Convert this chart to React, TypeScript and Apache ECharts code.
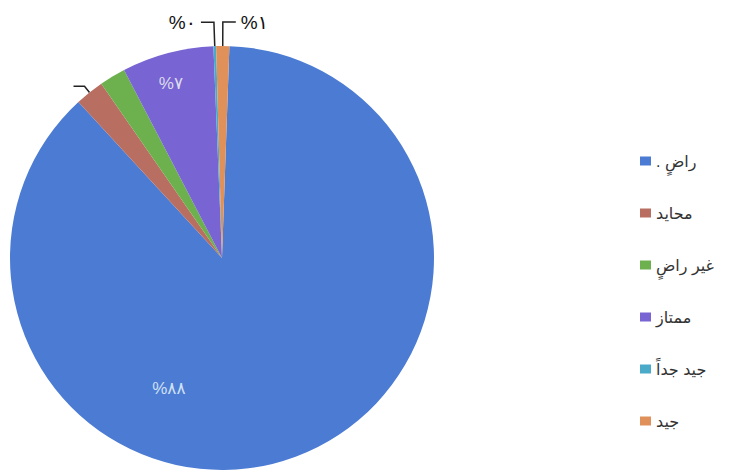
import React, { useEffect, useRef } from "react";
import * as echarts from "echarts";

const categories = [". راضٍ", "محايد", "غير راضٍ", "ممتاز", "جيد جداً", "جيد"];
const values = [87.6, 2.2, 2.0, 7.0, 0.2, 1.0];
const colors = ["#4b7bd3", "#b86e60", "#6db04e", "#7864d2", "#4aaac8", "#e0915a"];

const arabicDigits = ["٠", "١", "٢", "٣", "٤", "٥", "٦", "٧", "٨", "٩"];
const toArabic = (n: number) => String(n).split("").map((c) => arabicDigits[Number(c)] ?? c).join("");

const FONT = 'Arial, "Liberation Sans", "DejaVu Sans", sans-serif';

export default function App() {
  const ref = useRef<HTMLDivElement>(null);
  useEffect(() => {
    if (!ref.current) return;
    const chart = echarts.init(ref.current, null, { renderer: "svg" });
    const insideLabel = { position: "inside", color: "#d6e2f2", fontSize: 17, fontFamily: FONT };
    const outsideLabel = {
      position: "outside",
      color: "#111",
      fontSize: 19,
      fontFamily: FONT,
      padding: [0, 0, 12, 0],
    };
    const data = categories.map((name, i) => {
      const item: any = { name, value: values[i], itemStyle: { color: colors[i] } };
      if (i === 0 || i === 3) {
        item.label = { ...insideLabel, color: i === 0 ? "#cfe0f4" : "#dcdcec" };
        item.labelLine = { show: false };
      } else if (i === 1) {
        item.label = { position: "outside", formatter: " ", fontSize: 12 };
        item.labelLine = { show: true, length: 8, length2: 11, lineStyle: { color: "#222", width: 1.5 } };
      } else if (i === 2) {
        item.label = { show: false };
        item.labelLine = { show: false };
      } else {
        item.label = outsideLabel;
        item.labelLine = { show: true, length: 24, length2: 13, lineStyle: { color: "#222", width: 1.5 } };
      }
      return item;
    });
    chart.setOption({
      animation: false,
      backgroundColor: "#ffffff",
      legend: {
        orient: "vertical",
        left: 635,
        top: 147,
        itemWidth: 11,
        itemHeight: 9,
        itemGap: 34,
        icon: "rect",
        textStyle: { fontSize: 16, lineHeight: 18, color: "#333", fontFamily: FONT },
        data: categories,
      },
      series: [
        {
          type: "pie",
          center: [222, 258],
          radius: 212,
          startAngle: 88,
          clockwise: true,
          avoidLabelOverlap: false,
          label: {
            formatter: (p: any) => "%" + toArabic(Math.round(p.percent)),
          },
          labelLayout: (p: any) => {
            if (p.dataIndex === 0) return { dx: -91, dy: 28 };
            if (p.dataIndex === 3) return { dx: -23, dy: -69 };
            return {};
          },
          emphasis: { disabled: true },
          data,
        },
      ],
    });
    return () => chart.dispose();
  }, []);
  return (
    <div
      ref={ref}
      style={{ position: "fixed", left: 0, top: 0, width: 745, height: 474, background: "#fff" }}
    />
  );
}
